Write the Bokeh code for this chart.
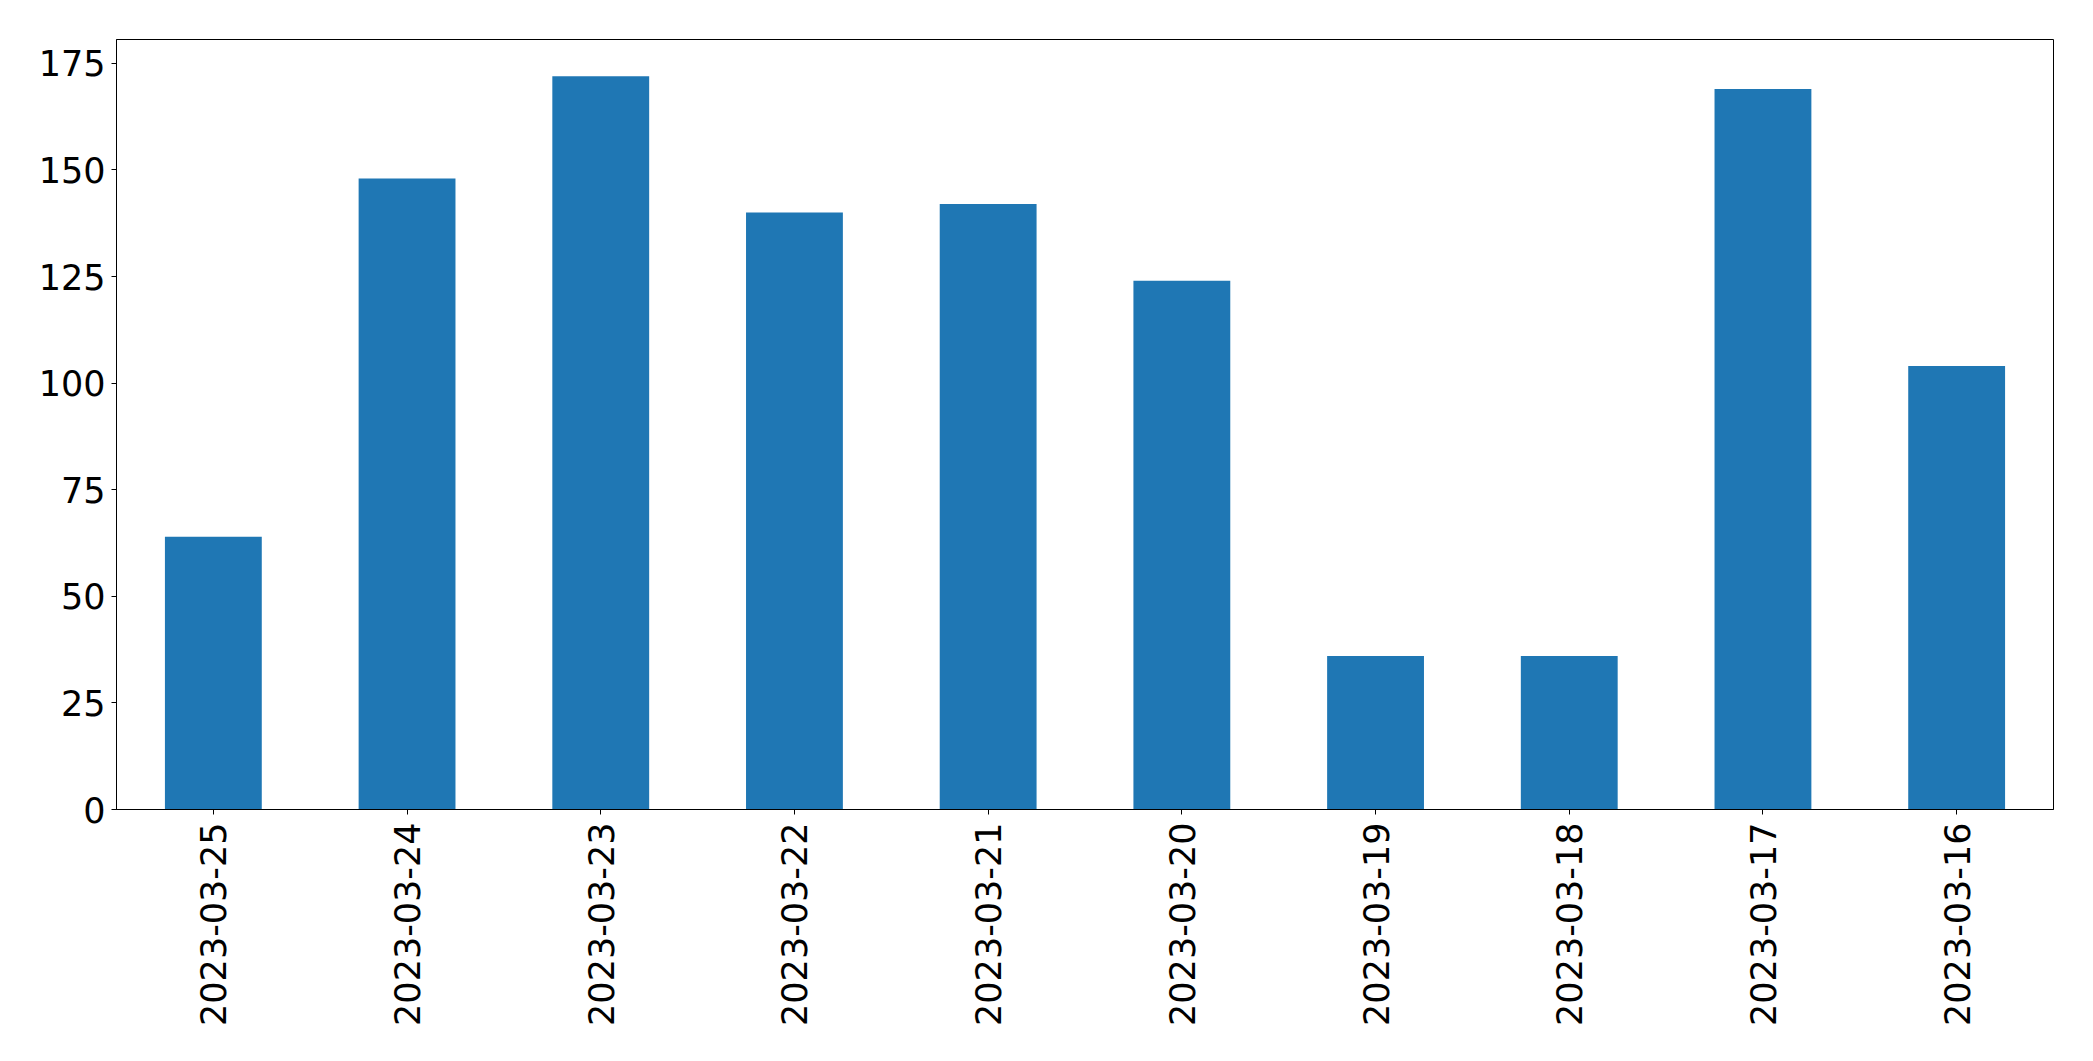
import math
from bokeh.plotting import figure
from bokeh.models import ColumnDataSource, Range1d, FixedTicker
from bokeh.embed import file_html
from bokeh.resources import INLINE

dates = ["2023-03-25", "2023-03-24", "2023-03-23", "2023-03-22", "2023-03-21",
         "2023-03-20", "2023-03-19", "2023-03-18", "2023-03-17", "2023-03-16"]
counts = [64, 148, 172, 140, 142, 124, 36, 36, 169, 104]
y_ticks = [0, 25, 50, 75, 100, 125, 150, 175]

src = ColumnDataSource(dict(x=dates, top=counts))

p = figure(x_range=dates, y_range=Range1d(0, max(counts) * 1.05),
           width=2077, height=1045, output_backend="svg", toolbar_location=None,
           min_border_left=116, min_border_right=24, min_border_top=39, min_border_bottom=236)

p.vbar(x="x", top="top", width=0.5, source=src, fill_color="#1f77b4", line_color=None)

p.x_range.range_padding = 0
p.xgrid.grid_line_color = None
p.ygrid.grid_line_color = None
p.outline_line_color = "black"
p.outline_line_width = 1
p.background_fill_color = "white"
p.border_fill_color = "white"

p.yaxis.ticker = FixedTicker(ticks=y_ticks)
for ax in (p.xaxis, p.yaxis):
    ax.major_label_text_font = "DejaVu Sans"
    ax.major_label_text_font_size = "35px"
    ax.major_label_text_color = "black"
    ax.axis_line_color = "black"
    ax.axis_line_width = 1
    ax.major_tick_line_color = "black"
    ax.major_tick_out = 5
    ax.major_tick_in = 0
    ax.minor_tick_line_color = None
p.xaxis.major_label_standoff = 8
p.yaxis.major_label_standoff = 6
p.xaxis.major_label_orientation = math.pi / 2

open("out.html", "w").write(file_html(p, INLINE))
